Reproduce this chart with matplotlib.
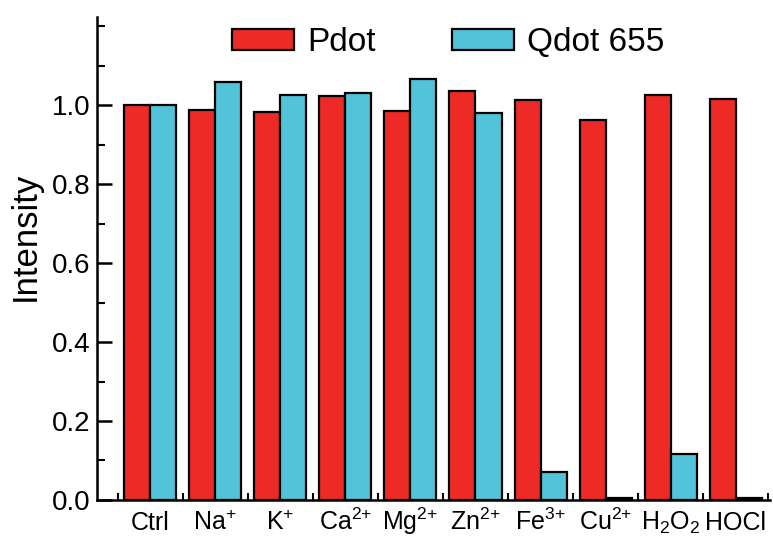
import matplotlib
matplotlib.use("Agg")
import matplotlib.pyplot as plt
import numpy as np
from matplotlib.ticker import MultipleLocator, FixedLocator

plt.rcParams['font.family'] = ['Liberation Sans', 'DejaVu Sans']
plt.rcParams['mathtext.fontset'] = 'custom'
plt.rcParams['mathtext.rm'] = 'Liberation Sans'
plt.rcParams['mathtext.it'] = 'Liberation Sans'
plt.rcParams['mathtext.bf'] = 'Liberation Sans'

categories = ['Ctrl', 'Na$^{\\text{+}}$', 'K$^{\\text{+}}$', 'Ca$^{\\text{2+}}$', 'Mg$^{\\text{2+}}$',
              'Zn$^{\\text{2+}}$', 'Fe$^{\\text{3+}}$', 'Cu$^{\\text{2+}}$', 'H$_2$O$_2$', 'HOCl']
pdot = [1.000, 0.987, 0.983, 1.024, 0.985, 1.035, 1.013, 0.962, 1.027, 1.015]
qdot = [1.000, 1.059, 1.027, 1.032, 1.066, 0.979, 0.072, 0.006, 0.116, 0.006]
series_names = ['Pdot', 'Qdot 655']
yticks = [0.0, 0.2, 0.4, 0.6, 0.8, 1.0]
ytick_labels = ['0.0', '0.2', '0.4', '0.6', '0.8', '1.0']

red = '#EE2A26'
cyan = '#52C3D8'

fig = plt.figure(figsize=(7.73, 5.37), dpi=100)
ax = fig.add_axes([0.1255, 0.069, 0.871, 0.899])

x = np.arange(len(categories))
w = 0.4
ax.bar(x - w / 2, pdot, width=w, color=red, edgecolor='black', linewidth=1.6, label=series_names[0])
ax.bar(x + w / 2, qdot, width=w, color=cyan, edgecolor='black', linewidth=1.6, label=series_names[1])

ax.set_xlim(-0.815, 9.53)
ax.set_ylim(0, 1.223)

for s in ['top', 'right']:
    ax.spines[s].set_visible(False)
for s in ['left', 'bottom']:
    ax.spines[s].set_linewidth(1.8)

ax.set_xticks(x)
ax.set_xticklabels(categories, fontsize=18, va='baseline')
ax.xaxis.set_minor_locator(FixedLocator(np.arange(-0.5, 10, 1.0)))
ax.tick_params(axis='x', which='major', length=0, pad=21.5)
ax.tick_params(axis='x', which='minor', direction='in', length=5, width=1.5)

ax.set_yticks(yticks)
ax.set_yticklabels(ytick_labels, fontsize=20)
ax.yaxis.set_minor_locator(MultipleLocator(0.1))
ax.tick_params(axis='y', which='major', direction='in', length=11, width=1.8, pad=5)
ax.tick_params(axis='y', which='minor', direction='in', length=6, width=1.5)
ax.set_ylabel('Intensity', fontsize=25)
ax.yaxis.set_label_coords(-0.082, 0.547)

fig.legend(loc='upper center', bbox_to_anchor=(0.580, 1.005), ncol=2, frameon=False,
           fontsize=24, handlelength=1.85, handleheight=0.6, columnspacing=2.3,
           handletextpad=0.4)

fig.savefig('out.png', dpi=100)
